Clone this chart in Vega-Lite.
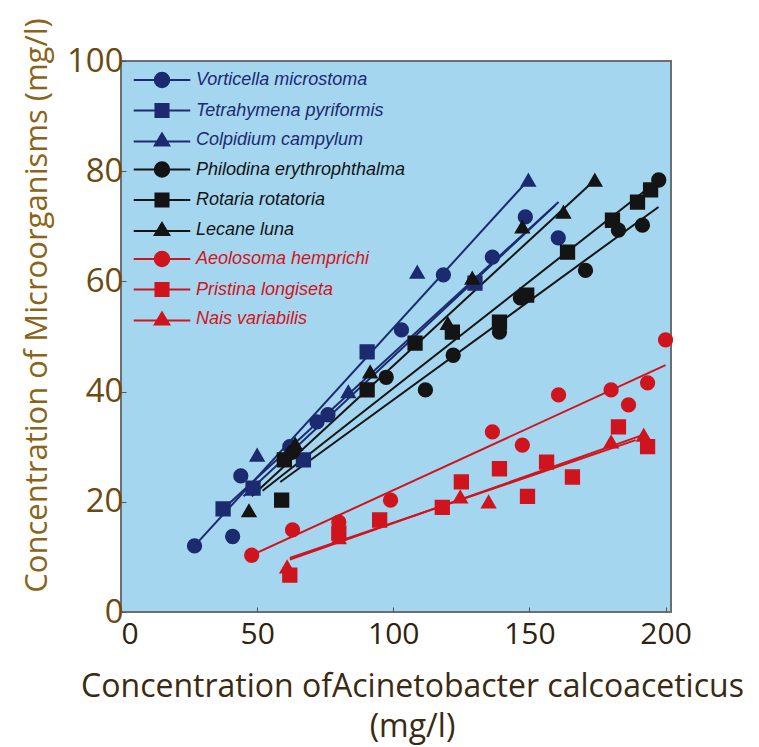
{
  "$schema": "https://vega.github.io/schema/vega-lite/v6.json",
  "autosize": {"type": "none"},
  "width": 550,
  "height": 551,
  "padding": {"left": 121, "top": 61, "right": 88, "bottom": 135},
  "background": "#ffffff",
  "config": {
    "view": {"fill": "#a5d6ef", "stroke": "#6e6e6e", "strokeWidth": 2},
    "axis": {"grid": false, "domain": false, "labelFont": "Open Sans", "titleFont": "Open Sans", "titleFontWeight": "normal", "tickColor": "#555555", "tickSize": -5, "tickWidth": 1},
    "legend": {"orient": "top-left", "offset": 10, "padding": 0, "labelFont": "Liberation Sans", "labelFontSize": 18, "labelFontStyle": "italic", "labelLimit": 320, "symbolOffset": 22, "labelOffset": 25, "rowPadding": 7.5, "symbolSize": 210, "symbolStrokeWidth": 2}
  },
  "datasets": {
    "points": [
      {"species": "Vorticella microstoma", "x": 27, "y": 12},
      {"species": "Vorticella microstoma", "x": 41, "y": 13.7},
      {"species": "Vorticella microstoma", "x": 44, "y": 24.7},
      {"species": "Vorticella microstoma", "x": 62, "y": 30},
      {"species": "Vorticella microstoma", "x": 72, "y": 34.5},
      {"species": "Vorticella microstoma", "x": 76, "y": 35.8},
      {"species": "Vorticella microstoma", "x": 103, "y": 51.2},
      {"species": "Vorticella microstoma", "x": 118.4, "y": 61.2},
      {"species": "Vorticella microstoma", "x": 136.4, "y": 64.4},
      {"species": "Vorticella microstoma", "x": 148.5, "y": 71.7},
      {"species": "Vorticella microstoma", "x": 160.6, "y": 67.9},
      {"species": "Tetrahymena pyriformis", "x": 37.5, "y": 18.7},
      {"species": "Tetrahymena pyriformis", "x": 48.5, "y": 22.5},
      {"species": "Tetrahymena pyriformis", "x": 67, "y": 27.6},
      {"species": "Tetrahymena pyriformis", "x": 90.4, "y": 47.2},
      {"species": "Tetrahymena pyriformis", "x": 130, "y": 59.7},
      {"species": "Colpidium campylum", "x": 50, "y": 28.5},
      {"species": "Colpidium campylum", "x": 83.5, "y": 40},
      {"species": "Colpidium campylum", "x": 108.8, "y": 61.7},
      {"species": "Colpidium campylum", "x": 149.6, "y": 78.4},
      {"species": "Philodina erythrophthalma", "x": 63, "y": 29},
      {"species": "Philodina erythrophthalma", "x": 97.4, "y": 42.6},
      {"species": "Philodina erythrophthalma", "x": 111.8, "y": 40.3},
      {"species": "Philodina erythrophthalma", "x": 122, "y": 46.6},
      {"species": "Philodina erythrophthalma", "x": 139, "y": 50.8},
      {"species": "Philodina erythrophthalma", "x": 146.7, "y": 57},
      {"species": "Philodina erythrophthalma", "x": 170.6, "y": 62},
      {"species": "Philodina erythrophthalma", "x": 182.7, "y": 69.3},
      {"species": "Philodina erythrophthalma", "x": 191.5, "y": 70.2},
      {"species": "Philodina erythrophthalma", "x": 197.5, "y": 78.4},
      {"species": "Rotaria rotatoria", "x": 59, "y": 20.3},
      {"species": "Rotaria rotatoria", "x": 60, "y": 27.6},
      {"species": "Rotaria rotatoria", "x": 90.4, "y": 40.3},
      {"species": "Rotaria rotatoria", "x": 108, "y": 48.8},
      {"species": "Rotaria rotatoria", "x": 121.7, "y": 50.8},
      {"species": "Rotaria rotatoria", "x": 139, "y": 52.6},
      {"species": "Rotaria rotatoria", "x": 149, "y": 57.5},
      {"species": "Rotaria rotatoria", "x": 164, "y": 65.3},
      {"species": "Rotaria rotatoria", "x": 180.5, "y": 71.1},
      {"species": "Rotaria rotatoria", "x": 189.7, "y": 74.4},
      {"species": "Rotaria rotatoria", "x": 194.5, "y": 76.6},
      {"species": "Lecane luna", "x": 47, "y": 18.4},
      {"species": "Lecane luna", "x": 64, "y": 30.5},
      {"species": "Lecane luna", "x": 91.5, "y": 43.6},
      {"species": "Lecane luna", "x": 120, "y": 52.4},
      {"species": "Lecane luna", "x": 129, "y": 60.6},
      {"species": "Lecane luna", "x": 147.4, "y": 69.9},
      {"species": "Lecane luna", "x": 162.5, "y": 72.6},
      {"species": "Lecane luna", "x": 174, "y": 78.4},
      {"species": "Aeolosoma hemprichi", "x": 48, "y": 10.3},
      {"species": "Aeolosoma hemprichi", "x": 63, "y": 14.9},
      {"species": "Aeolosoma hemprichi", "x": 80, "y": 16.3},
      {"species": "Aeolosoma hemprichi", "x": 99, "y": 20.3},
      {"species": "Aeolosoma hemprichi", "x": 136.4, "y": 32.7},
      {"species": "Aeolosoma hemprichi", "x": 147.4, "y": 30.3},
      {"species": "Aeolosoma hemprichi", "x": 160.7, "y": 39.4},
      {"species": "Aeolosoma hemprichi", "x": 180, "y": 40.3},
      {"species": "Aeolosoma hemprichi", "x": 186.4, "y": 37.6},
      {"species": "Aeolosoma hemprichi", "x": 193.4, "y": 41.6},
      {"species": "Aeolosoma hemprichi", "x": 200, "y": 49.4},
      {"species": "Pristina longiseta", "x": 62, "y": 6.7},
      {"species": "Pristina longiseta", "x": 80, "y": 14.3},
      {"species": "Pristina longiseta", "x": 95, "y": 16.7},
      {"species": "Pristina longiseta", "x": 118, "y": 19},
      {"species": "Pristina longiseta", "x": 125, "y": 23.6},
      {"species": "Pristina longiseta", "x": 139, "y": 26},
      {"species": "Pristina longiseta", "x": 149.3, "y": 21},
      {"species": "Pristina longiseta", "x": 156.3, "y": 27.2},
      {"species": "Pristina longiseta", "x": 165.8, "y": 24.5},
      {"species": "Pristina longiseta", "x": 182.7, "y": 33.6},
      {"species": "Pristina longiseta", "x": 193.4, "y": 30},
      {"species": "Nais variabilis", "x": 61, "y": 8.2},
      {"species": "Nais variabilis", "x": 80, "y": 13.5},
      {"species": "Nais variabilis", "x": 124.6, "y": 20.9},
      {"species": "Nais variabilis", "x": 135, "y": 20},
      {"species": "Nais variabilis", "x": 180, "y": 30.9},
      {"species": "Nais variabilis", "x": 192, "y": 32.1}
    ],
    "fits": [
      {"species": "Colpidium campylum", "x": 27, "y": 12},
      {"species": "Colpidium campylum", "x": 149.6, "y": 78.4},
      {"species": "Vorticella microstoma", "x": 45, "y": 21},
      {"species": "Vorticella microstoma", "x": 159.5, "y": 73.8},
      {"species": "Tetrahymena pyriformis", "x": 37.5, "y": 18.7},
      {"species": "Tetrahymena pyriformis", "x": 160.7, "y": 74.4},
      {"species": "Lecane luna", "x": 48, "y": 21},
      {"species": "Lecane luna", "x": 174, "y": 78.4},
      {"species": "Rotaria rotatoria", "x": 52, "y": 22},
      {"species": "Rotaria rotatoria", "x": 197.5, "y": 78.4},
      {"species": "Philodina erythrophthalma", "x": 58.5, "y": 23.6},
      {"species": "Philodina erythrophthalma", "x": 197.4, "y": 73.5},
      {"species": "Aeolosoma hemprichi", "x": 48, "y": 10.3},
      {"species": "Aeolosoma hemprichi", "x": 200, "y": 44.8},
      {"species": "Pristina longiseta", "x": 62, "y": 9.8},
      {"species": "Pristina longiseta", "x": 189, "y": 31.2},
      {"species": "Nais variabilis", "x": 62, "y": 9.5},
      {"species": "Nais variabilis", "x": 191, "y": 32}
    ]
  },
  "encoding": {
    "x": {
      "field": "x", "type": "quantitative",
      "scale": {"domain": [0, 202], "nice": false, "zero": false},
      "axis": {
        "values": [0, 50, 100, 150, 200],
        "labelFontSize": 30, "labelColor": "#2e2210", "labelPadding": 12,
        "title": ["Concentration ofAcinetobacter  calcoaceticus", "(mg/l)"],
        "titleFontSize": 32, "titleColor": "#3a2a12", "titleLineHeight": 40,
        "titlePadding": 22, "titleX": 291
      }
    },
    "y": {
      "field": "y", "type": "quantitative",
      "scale": {"domain": [0, 100], "nice": false},
      "axis": {
        "values": [0, 20, 40, 60, 80, 100],
        "labelFontSize": 33, "labelColor": "#6b4a12", "labelPadding": 3,
        "title": "Concentration of Microorganisms (mg/l)",
        "titleFontSize": 31, "titleColor": "#8a6418",
        "titleX": -84, "titleY": 244, "titleBaseline": "middle"
      }
    }
  },
  "layer": [
    {
      "data": {"name": "fits"},
      "mark": {"type": "line", "strokeWidth": 2},
      "encoding": {
        "stroke": {
          "field": "species", "type": "nominal", "legend": null,
          "scale": {
            "domain": ["Nais variabilis", "Pristina longiseta", "Aeolosoma hemprichi", "Lecane luna", "Rotaria rotatoria", "Philodina erythrophthalma", "Colpidium campylum", "Tetrahymena pyriformis", "Vorticella microstoma"],
            "range": ["#d0141e", "#d0141e", "#d0141e", "#141414", "#141414", "#141414", "#1c2a70", "#1c2a70", "#1c2a70"]
          }
        },
        "detail": {"field": "species"}
      }
    },
    {
      "data": {"name": "points"},
      "mark": {"type": "point", "filled": false, "opacity": 1, "size": 190, "strokeWidth": 1.5},
      "encoding": {
        "color": {
          "field": "species", "type": "nominal",
          "scale": {
            "domain": ["Vorticella microstoma", "Tetrahymena pyriformis", "Colpidium campylum", "Philodina erythrophthalma", "Rotaria rotatoria", "Lecane luna", "Aeolosoma hemprichi", "Pristina longiseta", "Nais variabilis"],
            "range": ["#1c2a70", "#1c2a70", "#1c2a70", "#141414", "#141414", "#141414", "#d0141e", "#d0141e", "#d0141e"]
          },
          "legend": {
            "title": null,
            "symbolType": {"expr": "datum.index % 3 == 0 ? 'M-3.9,0H3.9M-1,0A1,1,0,1,1,1,0A1,1,0,1,1,-1,0Z' : (datum.index % 3 == 1 ? 'M-3.9,0H3.9M-0.9,-0.9H0.9V0.9H-0.9Z' : 'M-3.9,0.2H3.9M0,-0.9L1,0.75H-1Z')"},
            "labelColor": {"expr": "scale('color', datum.value)"}
          }
        },
        "fill": {
          "field": "species", "type": "nominal",
          "scale": {
            "domain": ["Vorticella microstoma", "Tetrahymena pyriformis", "Colpidium campylum", "Philodina erythrophthalma", "Rotaria rotatoria", "Lecane luna", "Aeolosoma hemprichi", "Pristina longiseta", "Nais variabilis"],
            "range": ["#1c2a70", "#1c2a70", "#1c2a70", "#141414", "#141414", "#141414", "#d0141e", "#d0141e", "#d0141e"]
          },
          "legend": {
            "title": null,
            "symbolType": {"expr": "datum.index % 3 == 0 ? 'M-3.9,0H3.9M-1,0A1,1,0,1,1,1,0A1,1,0,1,1,-1,0Z' : (datum.index % 3 == 1 ? 'M-3.9,0H3.9M-0.9,-0.9H0.9V0.9H-0.9Z' : 'M-3.9,0.2H3.9M0,-0.9L1,0.75H-1Z')"},
            "labelColor": {"expr": "scale('color', datum.value)"}
          }
        },
        "shape": {
          "field": "species", "type": "nominal", "legend": null,
          "scale": {
            "domain": ["Nais variabilis", "Pristina longiseta", "Aeolosoma hemprichi", "Lecane luna", "Rotaria rotatoria", "Philodina erythrophthalma", "Colpidium campylum", "Tetrahymena pyriformis", "Vorticella microstoma"],
            "range": ["triangle-up", "square", "circle", "triangle-up", "square", "circle", "triangle-up", "square", "circle"]
          }
        }
      }
    }
  ]
}
